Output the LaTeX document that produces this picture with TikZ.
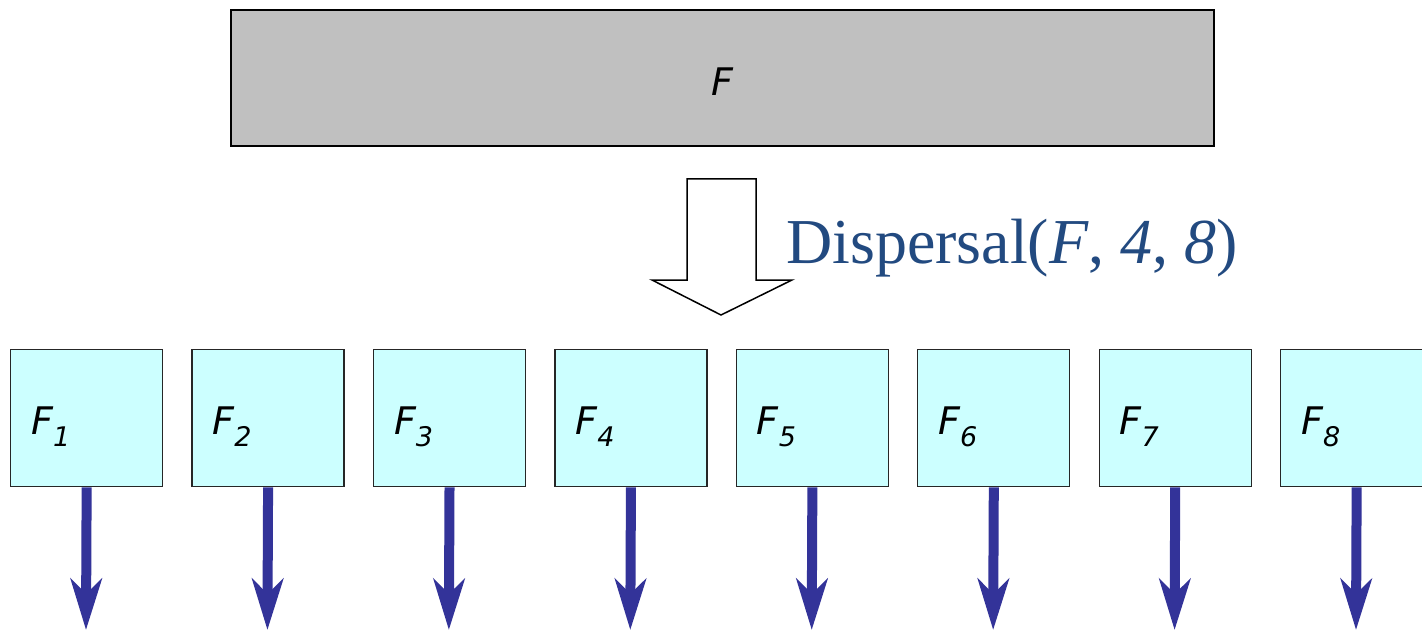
\documentclass[tikz,border=0pt]{standalone}
\usepackage{fontspec}
\setmainfont{Liberation Serif}
\newfontfamily\vsans{DejaVu Sans}
\usetikzlibrary{arrows.meta}
\definecolor{boxcyan}{HTML}{CCFFFF}
\definecolor{topgray}{HTML}{C0C0C0}
\definecolor{arrblue}{HTML}{333399}
\definecolor{labblue}{HTML}{224A80}
\tikzset{
  piece/.style={draw=black!85, line width=1.3pt, fill=boxcyan, minimum width=152pt, minimum height=137pt, inner sep=0pt, anchor=north west},
  plabel/.style={anchor=base west, inner sep=0pt, font=\vsans\itshape\fontsize{38}{40}\selectfont},
  blue arrow/.style={arrblue, line width=10pt, -{Stealth[length=51pt,width=31pt,inset=15pt]}},
}
\begin{document}
\begin{tikzpicture}[x=1pt,y=-1pt]
\useasboundingbox (0,0) rectangle (1422,631);
\node[draw, line width=2pt, fill=topgray, minimum width=983pt, minimum height=136pt, inner sep=0pt, anchor=north west] (F) at (230,9) {};
\node[anchor=center, inner sep=0pt, font=\vsans\itshape\fontsize{38}{40}\selectfont] (Flab) at (722,81.5) {F};
\draw[line width=1.5pt, fill=white, line join=miter] (687,179) -- (756,179) -- (756,280) -- (792,280) -- (721,315) -- (652,280) -- (687,280) -- cycle;
\node[anchor=base west, inner sep=0pt, text=labblue, font=\fontsize{64}{68}\selectfont] (disp) at (786,263) {Dispersal(\textit{F}, \textit{4}, \textit{8})};
\foreach \i in {1,...,8} {
  \pgfmathsetmacro{\bx}{10+(\i-1)*181.43}
  \node[piece] (f\i) at (\bx,349) {};
  \node[plabel] (l\i) at (\bx+21,434) {F\raisebox{-12pt}{\fontsize{27}{30}\selectfont\i}};
  \coordinate (t\i) at (\bx+76,630);
  \draw[blue arrow] (f\i.south) -- (t\i);
}
\end{tikzpicture}
\end{document}
